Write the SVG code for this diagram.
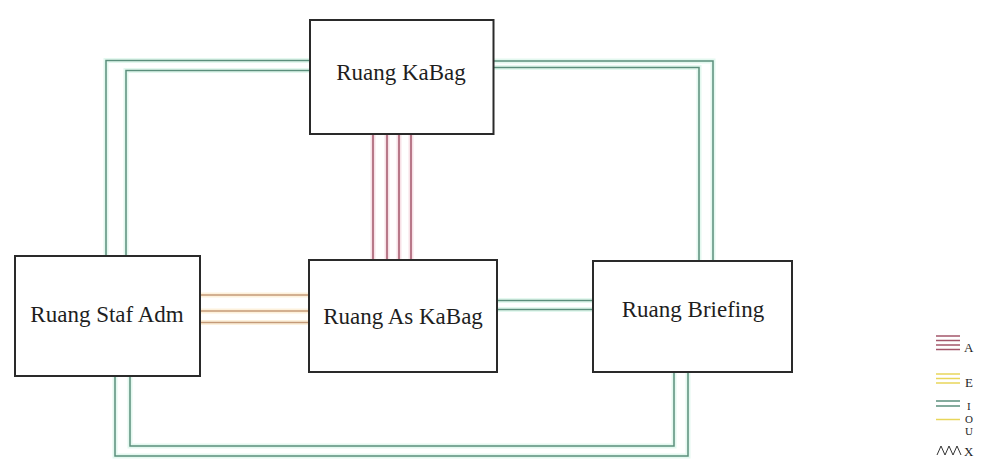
<svg xmlns="http://www.w3.org/2000/svg" width="989" height="476" viewBox="0 0 989 476">
<style>
.box{fill:#fff;stroke:#2a2a2a;stroke-width:2}
.lbl{font-family:"Liberation Serif","Times New Roman",serif;font-size:23px;fill:#1e1e1e;text-anchor:middle}
.lg{font-family:"Liberation Serif","Times New Roman",serif;font-size:13px;fill:#1e1e1e}
.lg2{font-family:"Liberation Serif","Times New Roman",serif;font-size:11px;fill:#1e1e1e}
.gh{fill:none;stroke:#e3f8ef;stroke-width:5}
.g{fill:none;stroke:#5b8f7c;stroke-width:1.5}
.r{fill:none;stroke:#a3566a;stroke-width:1.5}
.rh{fill:none;stroke:#f7e0e6;stroke-width:5}
.o{fill:none;stroke:#c49a78;stroke-width:1.5}
.oh{fill:none;stroke:#fdf1dc;stroke-width:5}
.y{fill:none;stroke:#e8d65a;stroke-width:1.5}
.x{fill:none;stroke:#333;stroke-width:1}
</style>
<rect width="989" height="476" fill="#fff"/>
<g id="connectors">
  <g id="halo">
    <polyline class="gh" points="106,257 106,60.5 310,60.5"/>
    <polyline class="gh" points="126,257 126,70.5 310,70.5"/>
    <polyline class="gh" points="494,61 713,61 713,261"/>
    <polyline class="gh" points="494,67.5 699,67.5 699,261"/>
    <polyline class="gh" points="115,376 115,456 688,456 688,372"/>
    <polyline class="gh" points="130,376 130,446 674,446 674,372"/>
    <line class="gh" x1="497" y1="300.5" x2="593" y2="300.5"/>
    <line class="gh" x1="497" y1="309.5" x2="593" y2="309.5"/>
    <line class="rh" x1="373" y1="134" x2="373" y2="260"/>
    <line class="rh" x1="387" y1="134" x2="387" y2="260"/>
    <line class="rh" x1="399" y1="134" x2="399" y2="260"/>
    <line class="rh" x1="411" y1="134" x2="411" y2="260"/>
    <line class="oh" x1="200" y1="295" x2="309" y2="295"/>
    <line class="oh" x1="200" y1="311" x2="309" y2="311"/>
    <line class="oh" x1="200" y1="322.5" x2="309" y2="322.5"/>
  </g>
  <polyline id="staf-kabag-1" class="g" points="106,257 106,60.5 310,60.5"/>
  <polyline id="staf-kabag-2" class="g" points="126,257 126,70.5 310,70.5"/>
  <polyline id="kabag-brief-1" class="g" points="494,61 713,61 713,261"/>
  <polyline id="kabag-brief-2" class="g" points="494,67.5 699,67.5 699,261"/>
  <polyline id="staf-brief-1" class="g" points="115,376 115,456 688,456 688,372"/>
  <polyline id="staf-brief-2" class="g" points="130,376 130,446 674,446 674,372"/>
  <line class="g" x1="497" y1="300.5" x2="593" y2="300.5"/>
  <line class="g" x1="497" y1="309.5" x2="593" y2="309.5"/>
  <line class="r" x1="373" y1="134" x2="373" y2="260"/>
  <line class="r" x1="387" y1="134" x2="387" y2="260"/>
  <line class="r" x1="399" y1="134" x2="399" y2="260"/>
  <line class="r" x1="411" y1="134" x2="411" y2="260"/>
  <line class="o" x1="200" y1="295" x2="309" y2="295"/>
  <line class="o" x1="200" y1="311" x2="309" y2="311"/>
  <line class="o" x1="200" y1="322.5" x2="309" y2="322.5"/>
</g>
<g id="kabag">
  <rect class="box" x="310" y="20" width="183.5" height="114"/>
  <text class="lbl" x="401" y="80">Ruang KaBag</text>
</g>
<g id="staf-adm">
  <rect class="box" x="15" y="256" width="185" height="120"/>
  <text class="lbl" x="107" y="322">Ruang Staf Adm</text>
</g>
<g id="as-kabag">
  <rect class="box" x="309" y="260" width="188" height="112"/>
  <text class="lbl" x="403" y="324">Ruang As KaBag</text>
</g>
<g id="briefing">
  <rect class="box" x="593" y="261" width="199" height="111"/>
  <text class="lbl" x="693" y="317">Ruang Briefing</text>
</g>
<g id="legend">
  <line class="r" x1="936" y1="336" x2="960" y2="336"/>
  <line class="r" x1="936" y1="340.5" x2="960" y2="340.5"/>
  <line class="r" x1="936" y1="345" x2="960" y2="345"/>
  <line class="r" x1="936" y1="349.5" x2="960" y2="349.5"/>
  <text class="lg" x="964" y="352">A</text>
  <line class="y" x1="936" y1="374" x2="960" y2="374"/>
  <line class="y" x1="936" y1="378.5" x2="960" y2="378.5"/>
  <line class="y" x1="936" y1="383" x2="960" y2="383"/>
  <text class="lg" x="965" y="387">E</text>
  <line class="g" x1="936" y1="401" x2="960" y2="401"/>
  <line class="g" x1="936" y1="406" x2="960" y2="406"/>
  <line class="y" x1="936" y1="419.5" x2="960" y2="419.5"/>
  <text class="lg2" x="967" y="410">I</text>
  <text class="lg2" x="965" y="422.5">O</text>
  <text class="lg2" x="965" y="435">U</text>
  <text class="lg" x="964" y="456">X</text>
  <polyline class="x" points="937,455 941,446 945,455 949,446 953,455 957,446 961,455"/>
</g>
</svg>
